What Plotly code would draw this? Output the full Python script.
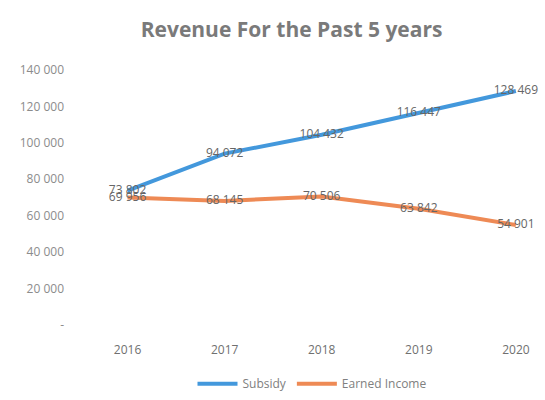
import plotly.graph_objects as go

years = ["2016", "2017", "2018", "2019", "2020"]
subsidy = [73802, 94072, 104432, 116447, 128469]
earned_income = [69956, 68145, 70506, 63842, 54901]

y_tick_vals = [0, 20000, 40000, 60000, 80000, 100000, 120000, 140000]
y_tick_text = ["-", "20 000", "40 000", "60 000", "80 000", "100 000", "120 000", "140 000"]

label_font = dict(family="Open Sans", size=12, color="#666666")

fig = go.Figure()
fig.add_trace(go.Scatter(
    x=years, y=subsidy, name="Subsidy", mode="lines+text",
    line=dict(color="#4398dc", width=4),
    texttemplate="%{y:,d}", textposition="middle center", textfont=label_font,
    cliponaxis=False,
))
fig.add_trace(go.Scatter(
    x=years, y=earned_income, name="Earned Income", mode="lines+text",
    line=dict(color="#ee8a55", width=4),
    texttemplate="%{y:,d}", textposition="middle center", textfont=label_font,
    cliponaxis=False,
))

fig.update_layout(
    width=545, height=400,
    margin=dict(l=79, r=0, t=70, b=75),
    paper_bgcolor="white", plot_bgcolor="white",
    separators=". ",
    title=dict(
        text="<b>Revenue For the Past 5 years</b>",
        x=0.535, xanchor="center", y=0.925, yanchor="middle",
        font=dict(family="Open Sans", size=21, color="#7a7a7a"),
    ),
    showlegend=True,
    legend=dict(
        orientation="h", x=0.5, xanchor="center", y=-0.23, yanchor="middle",
        font=dict(family="Open Sans", size=12, color="#808080"),
        itemwidth=40,
    ),
    xaxis=dict(
        type="category", range=[-0.5, 4.3],
        showgrid=False, zeroline=False, showline=False, ticks="",
        ticklabelstandoff=16,
        tickfont=dict(family="Open Sans", size=12, color="#707070"),
    ),
    yaxis=dict(
        range=[0, 140000],
        tickvals=y_tick_vals, ticktext=y_tick_text,
        showgrid=False, zeroline=False, showline=False, ticks="",
        ticklabelstandoff=14,
        tickfont=dict(family="Open Sans", size=12, color="#8c8c8c"),
    ),
)

fig.write_html("out.html")
